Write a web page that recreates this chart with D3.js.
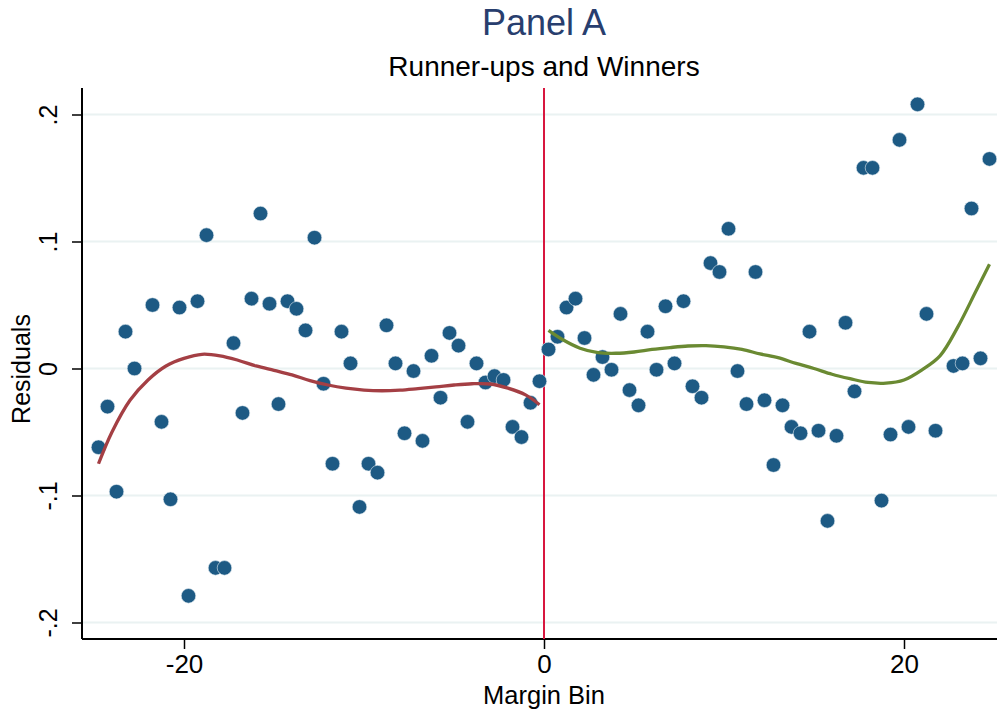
<!DOCTYPE html>
<html><head><meta charset="utf-8">
<script src="https://cdn.jsdelivr.net/npm/d3@7"></script>
<style>body{margin:0;background:#fff}svg{display:block}text{font-family:"Liberation Sans",Arial,Helvetica,sans-serif}</style>
</head><body><svg id="c" width="997" height="713"></svg>
<script>
// Left (runner-ups) binned residuals
const leftBins = [-24.75,-24.25,-23.75,-23.25,-22.75,-21.75,-21.25,-20.75,-20.25,-19.75,-19.25,-18.75,-18.25,-17.75,-17.25,-16.75,-16.25,-15.75,-15.25,-14.75,-14.25,-13.75,-13.25,-12.75,-12.25,-11.75,-11.25,-10.75,-10.25,-9.75,-9.25,-8.75,-8.25,-7.75,-7.25,-6.75,-6.25,-5.75,-5.25,-4.75,-4.25,-3.75,-3.25,-2.75,-2.25,-1.75,-1.25,-0.75,-0.25];
const leftResid = [-0.062,-0.030,-0.097,0.029,0.000,0.050,-0.042,-0.103,0.048,-0.179,0.053,0.105,-0.157,-0.157,0.020,-0.035,0.055,0.122,0.051,-0.028,0.053,0.047,0.030,0.103,-0.012,-0.075,0.029,0.004,-0.109,-0.075,-0.082,0.034,0.004,-0.051,-0.002,-0.057,0.010,-0.023,0.028,0.018,-0.042,0.004,-0.011,-0.006,-0.009,-0.046,-0.054,-0.027,-0.010];
// Right (winners) binned residuals
const rightBins = [0.25,0.75,1.25,1.75,2.25,2.75,3.25,3.75,4.25,4.75,5.25,5.75,6.25,6.75,7.25,7.75,8.25,8.75,9.25,9.75,10.25,10.75,11.25,11.75,12.25,12.75,13.25,13.75,14.25,14.75,15.25,15.75,16.25,16.75,17.25,17.75,18.25,18.75,19.25,19.75,20.25,20.75,21.25,21.75,22.75,23.25,23.75,24.25,24.75];
const rightResid = [0.015,0.025,0.048,0.055,0.024,-0.005,0.009,-0.001,0.043,-0.017,-0.029,0.029,-0.001,0.049,0.004,0.053,-0.014,-0.023,0.083,0.076,0.110,-0.002,-0.028,0.076,-0.025,-0.076,-0.029,-0.046,-0.051,0.029,-0.049,-0.120,-0.053,0.036,-0.018,0.158,0.158,-0.104,-0.052,0.180,-0.046,0.208,0.043,-0.049,0.002,0.004,0.126,0.008,0.165];
// Fitted curves
const leftFitX = [-24.75,-24,-23,-22,-21,-20,-19,-18,-17,-16,-15,-14,-13,-12,-11,-10,-9,-8,-7,-6,-5,-4,-3,-2,-1,-0.25];
const leftFitY = [-0.075,-0.050,-0.025,-0.009,0.002,0.008,0.0112,0.0100,0.0065,0.0020,-0.0015,-0.0050,-0.0095,-0.0130,-0.0155,-0.0170,-0.0175,-0.0170,-0.0158,-0.0145,-0.0130,-0.0120,-0.0122,-0.0155,-0.0210,-0.0285];
const rightFitX = [0.25,1,2,3,4,5,6,7,8,9,10,11,12,13,14,15,16,17,18,19,20,21,22,23,24,24.75];
const rightFitY = [0.030,0.023,0.016,0.0125,0.012,0.013,0.015,0.0165,0.0177,0.018,0.017,0.015,0.0115,0.0085,0.004,0.000,-0.0045,-0.008,-0.011,-0.0115,-0.009,-0.001,0.010,0.033,0.061,0.082];
const xTicks = [-20,0,20];
const xTickLabels = ["-20","0","20"];
const yTicks = [0.2,0.1,0,-0.1,-0.2];
const yTickLabels = [".2",".1","0","-.1","-.2"];

const svg = d3.select("#c");
const L=82, R=997, T=88, B=639;
const x = d3.scaleLinear().domain([-20,20]).range([184,904]);
const y = d3.scaleLinear().domain([0.2,-0.2]).range([114.5,622.5]);

// gridlines
svg.append("g").selectAll("line").data(yTicks).join("line")
  .attr("x1",L).attr("x2",R).attr("y1",d=>y(d)).attr("y2",d=>y(d))
  .attr("stroke","#eaf2f2").attr("stroke-width",2);

// axes
const yAxis = d3.axisLeft(y).tickValues(yTicks).tickSize(10).tickFormat((d,i)=>yTickLabels[i]);
const gy = svg.append("g").attr("transform",`translate(${L},0)`).call(yAxis);
gy.select(".domain").attr("d",`M0,${T}V${B}`).attr("stroke","#000").attr("stroke-width",2);
gy.selectAll(".tick line").attr("stroke","#000").attr("stroke-width",1.5);
gy.selectAll(".tick text").attr("font-size",25).attr("fill","#000")
  .attr("text-anchor","middle").attr("x",0)
  .attr("transform","translate(-34,0) rotate(-90)").attr("dy","0.35em");

const xAxis = d3.axisBottom(x).tickValues(xTicks).tickSize(10).tickFormat((d,i)=>xTickLabels[i]);
const gx = svg.append("g").attr("transform",`translate(0,${B})`).call(xAxis);
gx.select(".domain").attr("d",`M${L},0H${R}`).attr("stroke","#000").attr("stroke-width",2);
gx.selectAll(".tick line").attr("stroke","#000").attr("stroke-width",1.5);
gx.selectAll(".tick text").attr("font-size",26).attr("fill","#000").attr("y",16).attr("dy","0.71em");

// cutoff line
svg.append("line").attr("x1",x(0)).attr("x2",x(0)).attr("y1",T).attr("y2",B)
  .attr("stroke","#d8173f").attr("stroke-width",2);

// points
const pts = leftBins.map((b,i)=>({b,v:leftResid[i]})).concat(rightBins.map((b,i)=>({b,v:rightResid[i]})));
svg.append("g").selectAll("circle").data(pts).join("circle")
  .attr("cx",d=>x(d.b)).attr("cy",d=>y(d.v)).attr("r",7.3)
  .attr("fill","#1d5a84").attr("stroke","#e6eef4").attr("stroke-width",0.6);

// fits
const line = d3.line().x(d=>x(d[0])).y(d=>y(d[1])).curve(d3.curveCatmullRom.alpha(0.5));
svg.append("path").datum(leftFitX.map((v,i)=>[v,leftFitY[i]])).attr("d",line)
  .attr("fill","none").attr("stroke","#a43f44").attr("stroke-width",3.3);
svg.append("path").datum(rightFitX.map((v,i)=>[v,rightFitY[i]])).attr("d",line)
  .attr("fill","none").attr("stroke","#6a8a32").attr("stroke-width",3.3);

// titles
svg.append("text").attr("x",544).attr("y",35).attr("text-anchor","middle")
  .attr("font-size",36).attr("fill","#283e6e").text("Panel A");
svg.append("text").attr("x",544).attr("y",76).attr("text-anchor","middle")
  .attr("font-size",28).attr("fill","#000").text("Runner-ups and Winners");
svg.append("text").attr("x",544).attr("y",704).attr("text-anchor","middle")
  .attr("font-size",25.5).attr("fill","#000").text("Margin Bin");
svg.append("text").attr("transform","translate(30,369) rotate(-90)").attr("text-anchor","middle")
  .attr("font-size",25).attr("fill","#000").text("Residuals");
</script></body></html>
